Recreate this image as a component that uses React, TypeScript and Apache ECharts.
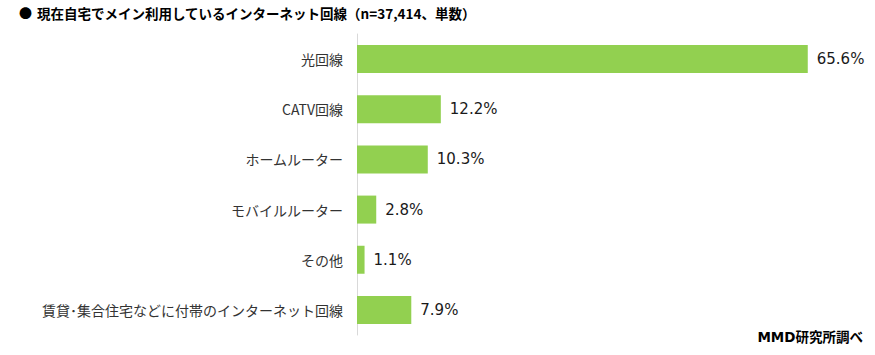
import React, { useEffect, useRef } from "react";
import * as echarts from "echarts";

const categories = [
  "光回線",
  "CATV回線",
  "ホームルーター",
  "モバイルルーター",
  "その他",
  "賃貸･集合住宅などに付帯のインターネット回線",
];
const values = [65.6, 12.2, 10.3, 2.8, 1.1, 7.9];
const title = "現在自宅でメイン利用しているインターネット回線（n=37,414、単数）";
const source = "MMD研究所調べ";

const FONT = "'Noto Sans CJK JP', 'Noto Sans', sans-serif";
const NUMFONT = "'DejaVu Sans', 'Noto Sans CJK JP', sans-serif";

export default function App() {
  const ref = useRef<HTMLDivElement>(null);
  useEffect(() => {
    if (!ref.current) return;
    const chart = echarts.init(ref.current, undefined, { renderer: "svg" });
    chart.setOption({
      animation: false,
      backgroundColor: "#ffffff",
      graphic: [
        {
          type: "text",
          left: 19,
          top: 6,
          style: { text: "●", font: `bold 13px ${FONT}`, fill: "#000" },
        },
        {
          type: "text",
          left: 37,
          top: 6,
          style: { text: title, font: `bold 13.5px ${FONT}`, fill: "#000" },
        },
        {
          type: "text",
          right: 12,
          top: 330,
          style: { text: source, font: `bold 13.5px ${NUMFONT}`, fill: "#000" },
        },
      ],
      grid: { left: 357, top: 34, width: 481, height: 301, containLabel: false },
      xAxis: {
        type: "value",
        min: 0,
        max: 70,
        show: false,
      },
      yAxis: {
        type: "category",
        data: categories,
        inverse: true,
        axisLine: { show: true, lineStyle: { color: "#d9d9d9", width: 1 } },
        axisTick: { show: false },
        axisLabel: {
          margin: 14,
          fontSize: 14,
          fontFamily: FONT,
          color: "#333333",
        },
      },
      series: [
        {
          type: "bar",
          data: values,
          barWidth: 28,
          itemStyle: { color: "#92D050" },
          label: {
            show: true,
            position: "right",
            distance: 9,
            formatter: (p: any) => `${p.value.toFixed(1)}%`,
            fontSize: 15,
            fontFamily: NUMFONT,
            color: "#1a1a1a",
          },
        },
      ],
    });
    return () => chart.dispose();
  }, []);
  return (
    <div
      ref={ref}
      style={{ position: "fixed", left: 0, top: 0, width: 875, height: 355 }}
    />
  );
}
